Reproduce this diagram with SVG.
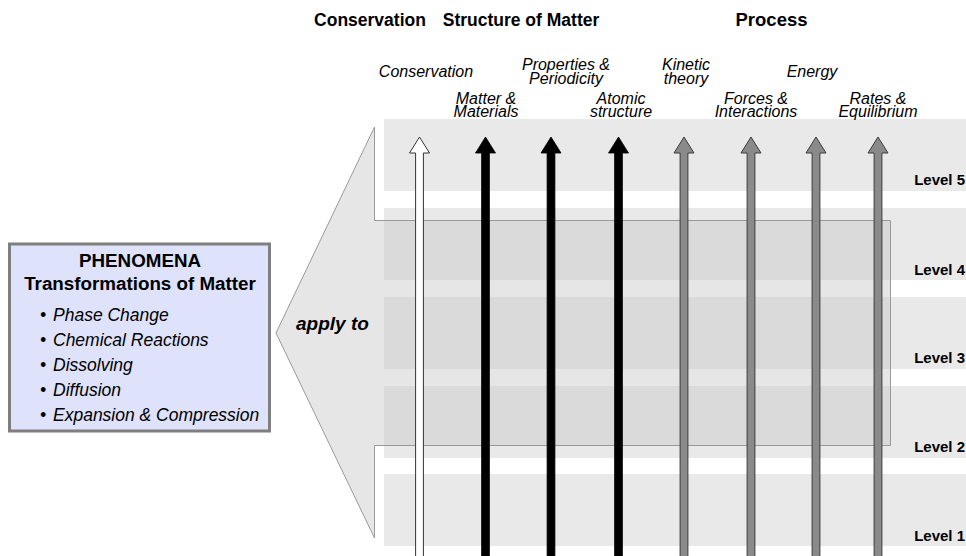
<svg xmlns="http://www.w3.org/2000/svg" width="966" height="556" viewBox="0 0 966 556">
<style>
text{font-family:"Liberation Sans",Arial,Helvetica,sans-serif;fill:#000}
.hdr{font-size:17.5px;font-weight:bold;text-anchor:middle}
.lbl{font-size:16px;font-style:italic;text-anchor:middle}
.lvl{font-size:15px;font-weight:bold;text-anchor:end}
.band{fill:#e9e9e9}
.ttl{font-size:18.8px;font-weight:bold;text-anchor:middle}
.bul{font-size:17.5px;font-style:italic}
.aw{fill:#fff;stroke:#333;stroke-width:1}
.ab{fill:#000;stroke:#000;stroke-width:0.8}
.ag{fill:#8a8a8a;stroke:#3c3c3c;stroke-width:1}
</style>
<defs>
<path id="arr" d="M0,137 L10,153 L3.9,153 L3.9,560 L-3.9,560 L-3.9,153 L-10,153 Z"/>
</defs>
<rect width="966" height="556" fill="#fff"/>

<g id="headers">
<text class="hdr" x="370" y="26">Conservation</text>
<text class="hdr" x="521" y="26">Structure of Matter</text>
<text class="hdr" x="771.5" y="26" style="font-size:18.5px">Process</text>
</g>

<g id="level-5"><rect class="band" x="384" y="119" width="582" height="72"/><text class="lvl" x="965" y="185">Level 5</text></g>
<g id="level-4"><rect class="band" x="384" y="208" width="582" height="72"/><text class="lvl" x="965" y="275">Level 4</text></g>
<g id="level-3"><rect class="band" x="384" y="297" width="582" height="72"/><text class="lvl" x="965" y="363">Level 3</text></g>
<g id="level-2"><rect class="band" x="384" y="386" width="582" height="72"/><text class="lvl" x="965" y="452">Level 2</text></g>
<g id="level-1"><rect class="band" x="384" y="474" width="582" height="72"/><text class="lvl" x="965" y="541">Level 1</text></g>

<g id="apply-to">
<path d="M374.5,127 L374.5,220.5 L890.5,220.5 L890.5,445.5 L374.5,445.5 L374.5,538 L276,333 Z" fill="#c8c8c8" fill-opacity="0.45" stroke="#9a9a9a" stroke-width="1"/>
<text x="296" y="330" style="font-size:19px;font-weight:bold;font-style:italic">apply to</text>
</g>

<g id="phenomena">
<rect x="9.5" y="244" width="260" height="187" fill="#dee2fb" stroke="#7f7f7f" stroke-width="3"/>
<text class="ttl" x="140" y="267">PHENOMENA</text>
<text class="ttl" x="140" y="290">Transformations of Matter</text>
<text class="bul" x="40" y="321">•<tspan x="53">Phase Change</tspan></text>
<text class="bul" x="40" y="346">•<tspan x="53">Chemical Reactions</tspan></text>
<text class="bul" x="40" y="371">•<tspan x="53">Dissolving</tspan></text>
<text class="bul" x="40" y="396">•<tspan x="53">Diffusion</tspan></text>
<text class="bul" x="40" y="421">•<tspan x="53">Expansion &amp; Compression</tspan></text>
</g>

<g id="labels">
<text class="lbl" x="426" y="77">Conservation</text>
<text class="lbl" x="566" y="70">Properties &amp;</text>
<text class="lbl" x="566" y="83.5">Periodicity</text>
<text class="lbl" x="686" y="70">Kinetic</text>
<text class="lbl" x="686" y="83.5">theory</text>
<text class="lbl" x="812" y="77">Energy</text>
<text class="lbl" x="486" y="103.5">Matter &amp;</text>
<text class="lbl" x="486" y="117">Materials</text>
<text class="lbl" x="621" y="103.5">Atomic</text>
<text class="lbl" x="621" y="117">structure</text>
<text class="lbl" x="756" y="103.5">Forces &amp;</text>
<text class="lbl" x="756" y="117">Interactions</text>
<text class="lbl" x="878" y="103.5">Rates &amp;</text>
<text class="lbl" x="878" y="117">Equilibrium</text>
</g>

<g id="connectors">
<use href="#arr" class="aw" x="419.5"/>
<use href="#arr" class="ab" x="485.5"/>
<use href="#arr" class="ab" x="551"/>
<use href="#arr" class="ab" x="618.5"/>
<use href="#arr" class="ag" x="684"/>
<use href="#arr" class="ag" x="751"/>
<use href="#arr" class="ag" x="816"/>
<use href="#arr" class="ag" x="878"/>
</g>
</svg>
